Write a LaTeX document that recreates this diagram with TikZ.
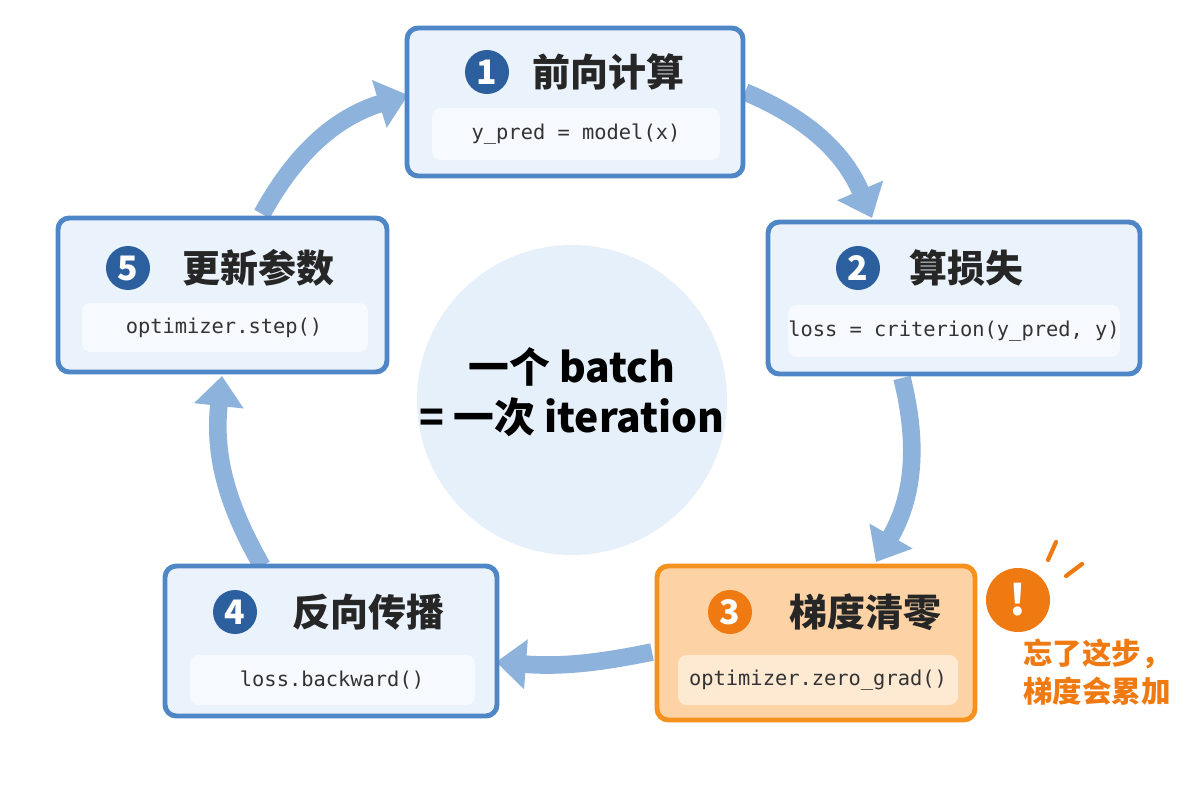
\documentclass[tikz,border=0pt]{standalone}
\usepackage{fontspec}
\setmainfont{Noto Sans CJK SC}
\setmonofont{DejaVu Sans Mono}
\usetikzlibrary{arrows.meta}
\definecolor{boxline}{HTML}{4F86C6}
\definecolor{boxfill}{HTML}{EAF2FB}
\definecolor{codefill}{HTML}{F6F9FD}
\definecolor{numblue}{HTML}{2C5F9E}
\definecolor{flow}{HTML}{8DB2DC}
\definecolor{orline}{HTML}{F5921E}
\definecolor{orfill}{HTML}{FDD3A6}
\definecolor{orcode}{HTML}{FEE9D3}
\definecolor{ordark}{HTML}{F07A12}
\definecolor{hub}{HTML}{E6F0FA}

\tikzset{
  stagebox/.style={draw=boxline, line width=3.5pt, fill=boxfill, rounded corners=8pt},
  code/.style={fill=codefill, rounded corners=6pt},
  num/.style={circle, fill=numblue, text=white, font=\fontsize{24}{24}\selectfont\bfseries, minimum size=1.1cm, inner sep=0pt},
  ttl/.style={font=\fontsize{27}{27}\selectfont\bfseries, text=black!85},
  cd/.style={font=\ttfamily\fontsize{14.5}{14.5}\selectfont, text=black!80},
  loop/.style={flow, line width=0.44cm, -{Triangle[length=0.75cm, width=1.2cm]}}
}

\begin{document}
\begin{tikzpicture}[x=0.025cm, y=-0.025cm]
\useasboundingbox[fill=white] (0,0) rectangle (1200,800);

% hub in the middle
\fill[hub] (572,400) circle (155);
\node[font=\fontsize{29}{36}\selectfont\bfseries, align=center] (hubtext) at (572,392) {一个 batch\\= 一次 iteration};

% loop arrows
\coordinate (a1s) at (745,92);  \coordinate (a1e) at (872,218);
\coordinate (a2s) at (902,378); \coordinate (a2e) at (876,562);
\coordinate (a3s) at (652,652); \coordinate (a3e) at (496,662);
\coordinate (a4s) at (262,566); \coordinate (a4e) at (222,376);
\coordinate (a5s) at (262,214); \coordinate (a5e) at (408,95);
\draw[loop] (a1s) to[bend left=22] (a1e);
\draw[loop] (a2s) to[bend left=22] (a2e);
\draw[loop] (a3s) to[bend left=8] (a3e);
\draw[loop] (a4s) to[bend left=18] (a4e);
\draw[loop] (a5s) to[bend left=22] (a5e);

% step 1
\draw[stagebox] (407,28) rectangle (743,176);
\fill[code] (432,108) rectangle (720,160);
\node[num] (n1) at (487,72) {1};
\node[ttl, anchor=west] (t1) at (528,72) {前向计算};
\node[cd] (c1) at (576,134) {y\_pred = model(x)};

% step 2
\draw[stagebox] (768,222) rectangle (1140,374);
\fill[code] (788,305) rectangle (1120,357);
\node[num] (n2) at (858,268) {2};
\node[ttl, anchor=west] (t2) at (905,268) {算损失};
\node[cd] (c2) at (954,331) {loss = criterion(y\_pred, y)};

% step 3
\draw[draw=orline, line width=3.5pt, fill=orfill, rounded corners=8pt] (657,566) rectangle (975,720);
\fill[orcode, rounded corners=6pt] (678,655) rectangle (958,705);
\node[num, fill=ordark] (n3) at (730,612) {3};
\node[ttl, anchor=west] (t3) at (785,612) {梯度清零};
\node[cd] (c3) at (818,680) {optimizer.zero\_grad()};

% step 4
\draw[stagebox] (165,566) rectangle (497,716);
\fill[code] (190,655) rectangle (475,705);
\node[num] (n4) at (235,612) {4};
\node[ttl, anchor=west] (t4) at (288,612) {反向传播};
\node[cd] (c4) at (332,680) {loss.backward()};

% step 5
\draw[stagebox] (58,218) rectangle (387,372);
\fill[code] (82,303) rectangle (368,352);
\node[num] (n5) at (128,268) {5};
\node[ttl, anchor=west] (t5) at (178,268) {更新参数};
\node[cd] (c5) at (224,328) {optimizer.step()};

% warning
\node[circle, fill=ordark, text=white, minimum size=1.6cm, inner sep=0pt, font=\fontsize{30}{30}\selectfont\bfseries] (warn) at (1018,600) {!};
\draw[ordark, line width=3pt, line cap=round] (1048,560) -- (1056,542);
\draw[ordark, line width=3pt, line cap=round] (1066,576) -- (1082,564);
\node[text=ordark, font=\fontsize{21}{27}\selectfont\bfseries, align=left] (note) at (1097,672) {忘了这步，\\梯度会累加};
\end{tikzpicture}
\end{document}
